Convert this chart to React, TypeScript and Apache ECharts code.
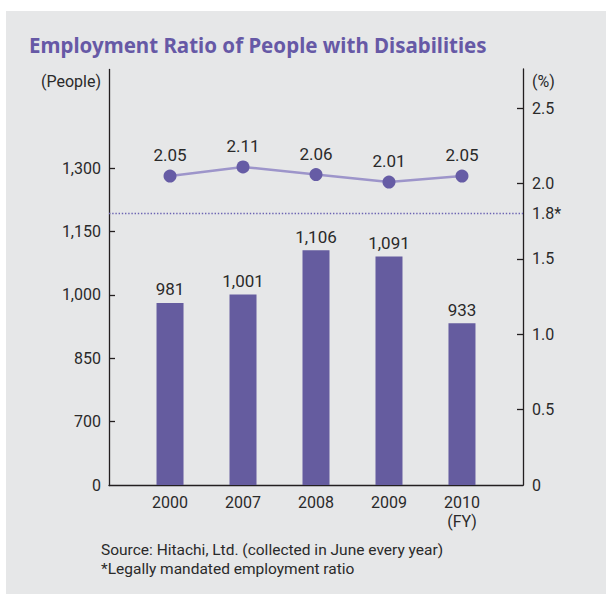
import React, { useEffect, useRef } from "react";
import * as echarts from "echarts";

const titleText = "Employment Ratio of People with Disabilities";
const years = ["2000", "2007", "2008", "2009", "2010"];
const lastYearSuffix = "(FY)";
const employees = [981, 1001, 1106, 1091, 933];
const ratio = [2.05, 2.11, 2.06, 2.01, 2.05];
const legalRatio = 1.8;
const leftLabelValues = [0, 700, 850, 1000, 1150, 1300];
const rightLabelValues = [0, 0.5, 1.0, 1.5, 2.0, 2.5];
const sourceLines = [
  "Source: Hitachi, Ltd. (collected in June every year)",
  "*Legally mandated employment ratio",
];

const BODY = "Roboto, 'Noto Sans', sans-serif";
const TITLE_FONT = "'Noto Sans'";
const TEXT = "#2a2a2a";
const AXIS = "#231f20";
const PURPLE = "#655c9f";

export default function App() {
  const ref = useRef<HTMLDivElement>(null);
  useEffect(() => {
    document.body.style.margin = "0";
    if (!ref.current) return;
    const chart = echarts.init(ref.current, undefined, { renderer: "svg" });
    const xPad = 0.836;
    const option: any = {
      animation: false,
      backgroundColor: "transparent",
      textStyle: { fontFamily: BODY },
      title: {
        text: titleText,
        left: 29,
        top: 34,
        padding: 0,
        textStyle: {
          fontFamily: TITLE_FONT,
          fontWeight: "bold",
          fontSize: 20.5,
          color: "#6659a6",
        },
      },
      grid: { left: 109, right: 83, top: 69, bottom: 109, containLabel: false },
      xAxis: {
        type: "value",
        min: -xPad,
        max: years.length - 1 + xPad,
        splitLine: { show: false },
        axisTick: { show: false },
        axisLine: { show: true, onZero: false, lineStyle: { color: AXIS, width: 1.3 } },
        axisLabel: {
          customValues: years.map((_, i) => i),
          formatter: (v: number) => {
            const i = Math.round(v);
            return i === years.length - 1 ? years[i] + "\n" + lastYearSuffix : years[i];
          },
          color: TEXT,
          fontSize: 16,
          lineHeight: 19,
          margin: 8,
          fontFamily: BODY,
        },
      },
      yAxis: [
        {
          type: "value",
          position: "left",
          min: 0,
          max: 1535,
          breaks: [{ start: 0, end: 550, gap: 0 }],
          breakArea: { show: false },
          name: "(People)",
          nameLocation: "end",
          nameGap: -12,
          nameTextStyle: {
            align: "right",
            verticalAlign: "middle",
            padding: [0, 8, 0, 0],
            color: TEXT,
            fontSize: 16,
            fontFamily: BODY,
          },
          splitLine: { show: false },
          axisLine: { show: true, onZero: false, lineStyle: { color: AXIS, width: 1.3 } },
          axisTick: {
            show: true,
            inside: true,
            length: 6,
            customValues: leftLabelValues.filter((v) => v > 0),
            lineStyle: { color: AXIS, width: 1.3 },
          },
          axisLabel: {
            customValues: leftLabelValues,
            formatter: (v: number) => v.toLocaleString("en-US"),
            color: TEXT,
            fontSize: 16,
            margin: 8,
            fontFamily: BODY,
          },
        },
        {
          type: "value",
          position: "right",
          min: 0,
          max: 2.76,
          name: "(%)",
          nameLocation: "end",
          nameGap: -12,
          nameTextStyle: {
            align: "left",
            verticalAlign: "middle",
            padding: [0, 0, 0, 9],
            color: TEXT,
            fontSize: 16,
            fontFamily: BODY,
          },
          splitLine: { show: false },
          axisLine: { show: true, onZero: false, lineStyle: { color: AXIS, width: 1.3 } },
          axisTick: {
            show: true,
            inside: true,
            length: 6,
            customValues: rightLabelValues.filter((v) => v > 0),
            lineStyle: { color: AXIS, width: 1.3 },
          },
          axisLabel: {
            customValues: [...rightLabelValues, legalRatio].sort((a, b) => a - b),
            formatter: (v: number) =>
              v === 0 ? "0" : Math.abs(v - legalRatio) < 1e-9 ? v.toFixed(1) + "*" : v.toFixed(1),
            color: TEXT,
            fontSize: 16,
            margin: 9,
            fontFamily: BODY,
          },
        },
      ],
      series: [
        {
          type: "bar",
          yAxisIndex: 0,
          barWidth: 27,
          data: employees.map((v, i) => [i, v]),
          itemStyle: { color: PURPLE },
          label: {
            show: true,
            position: "top",
            distance: 5,
            formatter: (p: any) => p.value[1].toLocaleString("en-US"),
            color: TEXT,
            fontSize: 17,
            fontFamily: BODY,
          },
        },
        {
          type: "line",
          yAxisIndex: 1,
          data: ratio.map((v, i) => [i, v]),
          symbol: "circle",
          symbolSize: 13,
          lineStyle: { color: "#9d95ca", width: 2.5 },
          itemStyle: { color: "#665ca5" },
          label: {
            show: true,
            position: "top",
            distance: 6,
            formatter: (p: any) => p.value[1].toFixed(2),
            color: TEXT,
            fontSize: 17,
            fontFamily: BODY,
          },
          markLine: {
            silent: true,
            symbol: "none",
            label: { show: false },
            lineStyle: { color: "#6c64b2", width: 1.4, type: [1.4, 1.8] },
            data: [{ yAxis: legalRatio }],
          },
        },
      ],
      graphic: [
        {
          type: "text",
          left: 101,
          top: 540,
          style: {
            text: sourceLines.join("\n"),
            fill: TEXT,
            fontSize: 15.5,
            lineHeight: 19,
            fontFamily: BODY,
          },
        },
      ],
    };
    chart.setOption(option);
    return () => chart.dispose();
  }, []);

  return (
    <div style={{ position: "relative", width: 606, height: 594, background: "#ffffff", overflow: "hidden" }}>
      <div
        style={{ position: "absolute", left: 6, top: 11, width: 600, height: 583, background: "#e6e7e8" }}
      />
      <div ref={ref} style={{ position: "absolute", left: 0, top: 0, width: 606, height: 594 }} />
    </div>
  );
}
